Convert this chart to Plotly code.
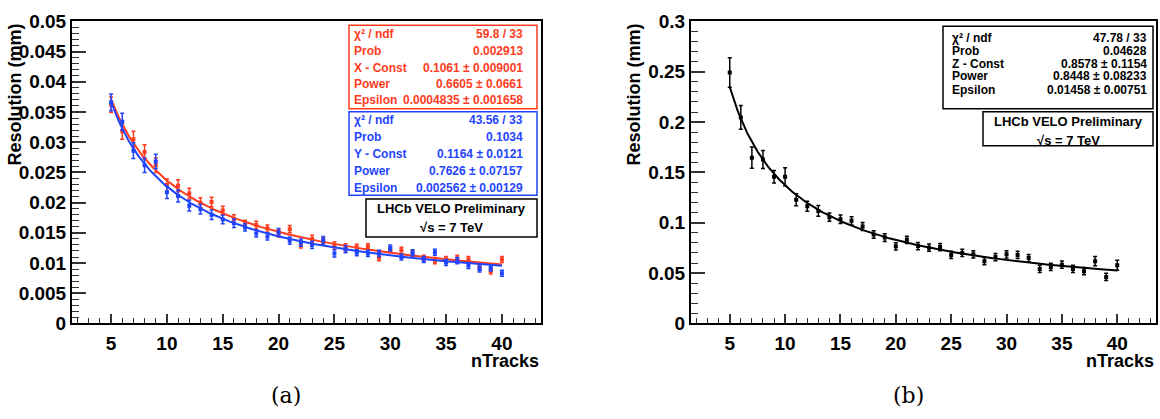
import numpy as np
import plotly.graph_objects as go

# ---------------- data ----------------
ntracks = list(range(5, 41))

res_x = [0.0362, 0.0318, 0.0305, 0.0284, 0.0262, 0.0229, 0.0228, 0.0215, 0.0200, 0.0201,
         0.0187, 0.0173, 0.0165, 0.0163, 0.0157, 0.0149, 0.0156, 0.0131, 0.0140, 0.0136,
         0.0129, 0.0126, 0.0126, 0.0127, 0.0109, 0.0122, 0.0121, 0.0116, 0.0108, 0.0104,
         0.0106, 0.0108, 0.0106, 0.0093, 0.0087, 0.0106]
err_x = [0.0013, 0.0013, 0.0013, 0.0012, 0.0012, 0.0010, 0.0010, 0.0009, 0.0008, 0.0008,
         0.0007, 0.0007, 0.0006, 0.0006, 0.0006, 0.0006, 0.0006, 0.0006, 0.0006, 0.0006,
         0.0006, 0.0006, 0.0005, 0.0005, 0.0005, 0.0005, 0.0005, 0.0005, 0.0005, 0.0005,
         0.0005, 0.0005, 0.0005, 0.0005, 0.0005, 0.0005]

res_y = [0.0366, 0.0334, 0.0286, 0.0262, 0.0268, 0.0217, 0.0211, 0.0195, 0.0189, 0.0180,
         0.0172, 0.0166, 0.0159, 0.0149, 0.0144, 0.0151, 0.0137, 0.0134, 0.0130, 0.0138,
         0.0116, 0.0123, 0.0117, 0.0116, 0.0116, 0.0125, 0.0110, 0.0117, 0.0106, 0.0118,
         0.0101, 0.0104, 0.0096, 0.0090, 0.0092, 0.0083]
err_y = [0.0014, 0.0014, 0.0013, 0.0012, 0.0012, 0.0010, 0.0010, 0.0009, 0.0008, 0.0008,
         0.0007, 0.0007, 0.0006, 0.0006, 0.0006, 0.0006, 0.0006, 0.0006, 0.0006, 0.0006,
         0.0006, 0.0006, 0.0005, 0.0005, 0.0005, 0.0005, 0.0005, 0.0005, 0.0005, 0.0005,
         0.0005, 0.0005, 0.0005, 0.0005, 0.0005, 0.0005]

res_z = [0.2493, 0.2046, 0.1647, 0.1628, 0.1456, 0.1456, 0.1228, 0.1165, 0.1118, 0.1056,
         0.1034, 0.1019, 0.0963, 0.0884, 0.0853, 0.0766, 0.0831, 0.0769, 0.0753, 0.0759,
         0.0681, 0.0700, 0.0687, 0.0619, 0.0659, 0.0687, 0.0681, 0.0650, 0.0541, 0.0562,
         0.0584, 0.0541, 0.0519, 0.0619, 0.0462, 0.0578]
err_z = [0.0147, 0.0118, 0.0105, 0.0090, 0.0062, 0.0090, 0.0060, 0.0050, 0.0053, 0.0042,
         0.0042, 0.0040, 0.0040, 0.0038, 0.0038, 0.0036, 0.0036, 0.0036, 0.0036, 0.0036,
         0.0036, 0.0036, 0.0036, 0.0036, 0.0036, 0.0036, 0.0036, 0.0036, 0.0036, 0.0036,
         0.0036, 0.0036, 0.0036, 0.0047, 0.0036, 0.0050]

# fit parameters [Const, Power, Epsilon] as displayed in the stat boxes
fit_x = [0.1061, 0.6605, 0.0004835]
fit_y = [0.1164, 0.7626, 0.002562]
fit_z = [0.8578, 0.8448, 0.01458]

stats_x = [("χ² / ndf", "59.8 / 33"), ("Prob", "0.002913"),
           ("X - Const", "0.1061 ± 0.009001"), ("Power", "0.6605 ± 0.0661"),
           ("Epsilon", "0.0004835 ± 0.001658")]
stats_y = [("χ² / ndf", "43.56 / 33"), ("Prob", "0.1034"),
           ("Y - Const", "0.1164 ± 0.0121"), ("Power", "0.7626 ± 0.07157"),
           ("Epsilon", "0.002562 ± 0.00129")]
stats_z = [("χ² / ndf", "47.78 / 33"), ("Prob", "0.04628"),
           ("Z - Const", "0.8578 ± 0.1154"), ("Power", "0.8448 ± 0.08233"),
           ("Epsilon", "0.01458 ± 0.00751")]

RED = "#ff3c1e"
BLUE = "#1f45ff"
BLACK = "#000000"
W, H = 1160, 419
FONT = "Liberation Sans"


def X(p):
    return p / W


def Y(p):
    return 1 - p / H


def fitfun(par, x):
    return par[0] / np.power(x, par[1]) + par[2]


xs = np.linspace(ntracks[0], ntracks[-1], 300)

fig = go.Figure()


def add_points(vals, errs, color, xa, ya):
    fig.add_trace(go.Scatter(
        x=ntracks, y=vals, mode="markers", xaxis=xa, yaxis=ya,
        marker=dict(symbol="square", size=4, color=color),
        error_y=dict(type="data", array=errs, color=color, thickness=1.5, width=2),
        showlegend=False, hoverinfo="x+y"))


def add_curve(par, color, xa, ya):
    fig.add_trace(go.Scatter(
        x=xs, y=fitfun(par, xs), mode="lines", xaxis=xa, yaxis=ya,
        line=dict(color=color, width=2), showlegend=False, hoverinfo="skip"))


add_points(res_x, err_x, RED, "x", "y")
add_curve(fit_x, RED, "x", "y")
add_points(res_y, err_y, BLUE, "x", "y")
add_curve(fit_y, BLUE, "x", "y")
add_points(res_z, err_z, BLACK, "x2", "y2")
add_curve(fit_z, BLACK, "x2", "y2")

tickfont = dict(family=FONT, size=19, color="black", weight="bold")
common_x = dict(range=[1.5, 43.5], tick0=0, dtick=5, ticks="inside", ticklen=9,
                tickwidth=1.5, tickcolor="#333", showgrid=False, zeroline=False,
                showline=True, linecolor="black", linewidth=2, mirror=True,
                tickfont=tickfont, ticklabelstandoff=2,
                minor=dict(dtick=1, ticks="inside", ticklen=5, tickcolor="#333", tickwidth=1.2))
common_y = dict(ticks="inside", ticklen=14, tickwidth=1.5, tickcolor="#333",
                showgrid=False, zeroline=False, showline=True, linecolor="black",
                linewidth=2, mirror=True, tickfont=tickfont)

y_dom = [Y(330), Y(12)]
fig.update_layout(
    width=W, height=H, margin=dict(l=0, r=0, t=0, b=0),
    paper_bgcolor="white", plot_bgcolor="white",
    xaxis=dict(domain=[X(72), X(541)], anchor="y", **common_x),
    yaxis=dict(domain=y_dom, anchor="x", range=[0, 0.05], dtick=0.005, tick0=0,
               minor=dict(dtick=0.001, ticks="inside", ticklen=7, tickcolor="#333", tickwidth=1.2),
               **common_y),
    xaxis2=dict(domain=[X(691), X(1156)], anchor="y2", **common_x),
    yaxis2=dict(domain=y_dom, anchor="x2", range=[0, 0.3], dtick=0.05, tick0=0,
                minor=dict(dtick=0.01, ticks="inside", ticklen=7, tickcolor="#333", tickwidth=1.2),
                **common_y),
)

shapes = []
annotations = []


def box(x0, x1, y0, y1, color):
    shapes.append(dict(type="rect", xref="paper", yref="paper",
                       x0=X(x0), x1=X(x1), y0=Y(y1), y1=Y(y0),
                       line=dict(color=color, width=1.5), fillcolor="white", layer="above"))


def text(s, x, y, color="black", anchor="left", size=12, weight="bold", family=FONT):
    annotations.append(dict(text=s, x=X(x), y=Y(y), xref="paper", yref="paper",
                            xanchor=anchor, yanchor="middle", showarrow=False,
                            font=dict(family=family, size=size, color=color, weight=weight)))


def statbox(rows, color, x0, x1, y0, y1, lx, rx, ys):
    box(x0, x1, y0, y1, color)
    for (lab, val), yy in zip(rows, ys):
        text(lab, lx, yy, color, "left")
        text(val, rx, yy, color, "right")


# left panel stat boxes
statbox(stats_x, RED, 349, 537, 16, 104, 352, 525, [25, 43, 61, 78, 95])
statbox(stats_y, BLUE, 349, 537, 107, 195, 352, 525, [116, 134, 152, 170, 187])
box(366, 537, 199, 239, "black")
text("LHCb VELO Preliminary", 451, 209, anchor="center", size=13)
text("√s = 7 TeV", 451, 229, anchor="center", size=13)

# right panel stat boxes
statbox(stats_z, "black", 943, 1153, 17, 104, 950, 1149, [30, 43, 57, 70, 84])
box(983, 1153, 107, 143, "black")
text("LHCb VELO Preliminary", 1068, 117, anchor="center", size=13)
text("√s = 7 TeV", 1068, 137, anchor="center", size=13)

# axis titles
for xr in (541, 1156):
    annotations.append(dict(text="nTracks", x=X(xr), y=Y(369), xref="paper", yref="paper",
                            xanchor="right", yanchor="middle", showarrow=False,
                            font=dict(family=FONT, size=18, color="black", weight="bold")))
for xc in (15, 634):
    annotations.append(dict(text="Resolution (mm)", x=X(xc), y=Y(12), xref="paper", yref="paper",
                            xanchor="center", yanchor="top", showarrow=False, textangle=-90,
                            font=dict(family=FONT, size=18, color="black", weight="bold")))

# panel labels
text("(a)", 286, 406, anchor="center", size=22, weight="normal", family="DejaVu Serif")
text("(b)", 908, 406, anchor="center", size=22, weight="normal", family="DejaVu Serif")

fig.update_layout(shapes=shapes, annotations=annotations)
fig.write_html("out.html")
